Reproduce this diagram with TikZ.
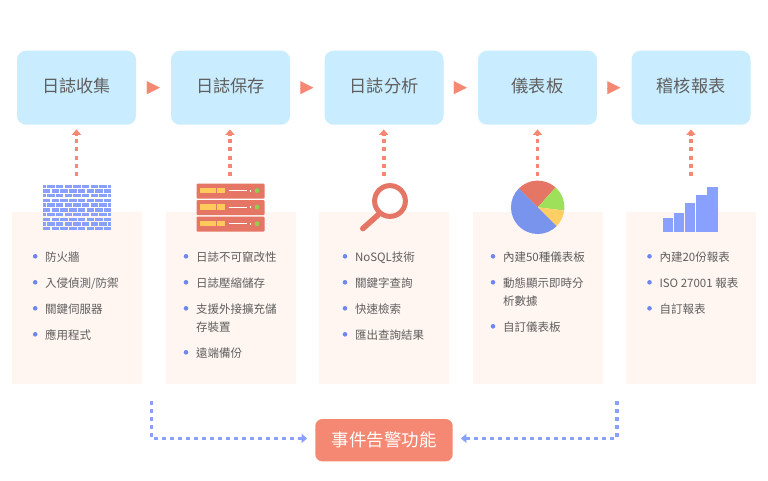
\documentclass[tikz,border=0pt]{standalone}
\usepackage{fontspec}
\setmainfont{Noto Sans CJK TC}
\usetikzlibrary{arrows.meta,calc}
\definecolor{stagefill}{HTML}{C9ECFF}
\definecolor{panelfill}{HTML}{FFF6F1}
\definecolor{coral}{HTML}{F58872}
\definecolor{brick}{HTML}{E57565}
\definecolor{periwinkle}{HTML}{8AA0FF}
\definecolor{bulletblue}{HTML}{6F86F0}
\definecolor{bodytext}{HTML}{5E5E5E}
\definecolor{titletext}{HTML}{5F5F5F}
\definecolor{piegreen}{HTML}{9FE05A}
\definecolor{pieyellow}{HTML}{FFCF66}
\definecolor{pieblue}{HTML}{7994EC}
\definecolor{ledgreen}{HTML}{8FD14F}
\definecolor{slotyellow}{HTML}{FFC95C}
\tikzset{
  stage/.style={draw=none,fill=stagefill,rounded corners=9pt,minimum width=119pt,minimum height=74pt,inner sep=0pt,
    text=titletext,font=\fontsize{17.2}{20}\selectfont},
  panel/.style={draw=none,fill=panelfill,minimum width=130pt,minimum height=172pt,inner sep=0pt},
  alarm/.style={draw=none,fill=coral,rounded corners=7pt,minimum width=137.4pt,minimum height=42.3pt,inner sep=0pt,
    text=white,font=\fontsize{17.5}{20}\selectfont},
  entry/.style={anchor=base west,inner sep=0pt,text=bodytext,font=\fontsize{11.5}{14}\selectfont},
  dotmark/.style={circle,fill=bulletblue,minimum size=4.6pt,inner sep=0pt},
  flowtip/.style={draw=coral,line width=.1pt,shorten <=11pt,shorten >=11pt,
    -{Triangle[length=13pt,width=13pt,fill=coral]}},
  feedsup/.style={draw=coral,line width=3.6pt,dash pattern=on 4pt off 4.2pt,shorten >=4.5pt,
    -{Triangle[length=5.5pt,width=9pt,fill=coral]}},
  alertline/.style={draw=periwinkle,line width=3.8pt,dash pattern=on 4.2pt off 3.8pt,
    -{Triangle[length=5.5pt,width=9pt,fill=periwinkle]}}
}
% One bullet line: name, bullet x, baseline y, text
\newcommand{\listline}[4]{%
  \node[dotmark] (#1d) at (#2,#3-4.7) {};
  \node[entry] (#1) at (#2+9.8,#3) {#4};
}
\begin{document}
\begin{tikzpicture}[x=1pt,y=-1pt]
\useasboundingbox (0,0) rectangle (768,480);
\fill[white] (0,0) rectangle (768,480);

% Pipeline stages
\foreach \n/\x/\label in {1/76.5/日誌收集,2/230.5/日誌保存,3/384/日誌分析,4/537.5/儀表板,5/691/稽核報表}{
  \node[stage] (s\n) at (\x,87.7) {\raisebox{4pt}{\label}};
}
\draw[flowtip] (s1.east) -- (s2.west);
\draw[flowtip] (s2.east) -- (s3.west);
\draw[flowtip] (s3.east) -- (s4.west);
\draw[flowtip] (s4.east) -- (s5.west);

% Detail panels
\node[panel] (p1) at (77,298) {};
\node[panel] (p2) at (231,298) {};
\node[panel] (p3) at (384,298) {};
\node[panel] (p4) at (538,298) {};
\node[panel] (p5) at (691,298) {};

% Connectors rising from each icon to its stage
\foreach \n/\x in {1/76.5,2/230,3/383.7,4/537.5,5/691}{
  \coordinate (f\n) at (\x,176);
  \draw[feedsup] (f\n) -- (f\n |- s\n.south);
}

% Firewall icon
\foreach \r in {0,...,9}{
  \pgfmathsetmacro{\ry}{184.6+\r*4.72}
  \pgfmathtruncatemacro{\odd}{mod(\r,2)}
  \begin{scope}
    \clip (43,184) rectangle (110.8,231);
    \foreach \c in {-1,...,8}{
      \pgfmathsetmacro{\bx}{43+\c*8.7+(\odd==0 ? 4.2 : 0)}
      \fill[periwinkle] (\bx,\ry) rectangle +(7.4,3.4);
    }
  \end{scope}
}

% Server icon
\foreach \t in {183.5,200,216.6}{
  \fill[brick,rounded corners=1pt] (196.5,\t) rectangle (264.5,\t+15);
  \foreach \sx in {200,208.4,216.8}{
    \fill[slotyellow] (\sx,\t+4.2) rectangle +(7.8,5.6);
  }
  \draw[white,line width=.6pt] (228.5,\t+7) -- (247,\t+7);
  \fill[white] (249.5,\t+6) rectangle +(1.8,2);
  \fill[ledgreen] (257,\t+7.1) circle (2.4);
}

% Magnifier icon
\draw[brick,line width=5pt] (390,201) circle (15.4);
\draw[brick,line width=5.6pt,line cap=round] (378,215) -- (362.8,228.6);

% Pie chart icon
\begin{scope}[shift={(537.7,207.3)},y=1pt]
  \fill[brick] (0,0) -- (135:26.7) arc[start angle=135,end angle=48,radius=26.7] -- cycle;
  \fill[piegreen] (0,0) -- (48:26.7) arc[start angle=48,end angle=-7,radius=26.7] -- cycle;
  \fill[pieyellow] (0,0) -- (-7:26.7) arc[start angle=-7,end angle=-45,radius=26.7] -- cycle;
  \fill[pieblue] (0,0) -- (-45:26.7) arc[start angle=-45,end angle=-225,radius=26.7] -- cycle;
\end{scope}

% Bar chart icon
\foreach \a/\b/\t in {662.7/673/218,674/684.3/213.3,685/695.3/203.3,696.3/706.7/195.3,707.3/718/187}{
  \fill[periwinkle] (\a,\t) rectangle (\b,231.7);
}

% Feature lists
\listline{a1}{35.2}{261}{防火牆}
\listline{a2}{35.2}{287}{入侵偵測/防禦}
\listline{a3}{35.2}{313}{關鍵伺服器}
\listline{a4}{35.2}{339}{應用程式}

\listline{b1}{186}{261}{日誌不可竄改性}
\listline{b2}{186}{287}{日誌壓縮儲存}
\listline{b3}{186}{313}{支援外接擴充儲}
\node[entry] (b3x) at (195.8,331) {存裝置};
\listline{b4}{186}{357}{遠端備份}

\listline{c1}{345}{261}{NoSQL技術}
\listline{c2}{345}{287}{關鍵字查詢}
\listline{c3}{345}{313}{快速檢索}
\listline{c4}{345}{339}{匯出查詢結果}

\listline{d1}{493}{261}{內建50種儀表板}
\listline{d2}{493}{287}{動態顯示即時分}
\node[entry] (d2x) at (502.8,305) {析數據};
\listline{d3}{493}{331}{自訂儀表板}

\listline{e1}{649.5}{261}{內建20份報表}
\listline{e2}{649.5}{287}{ISO 27001 報表}
\listline{e3}{649.5}{313}{自訂報表}

% Alert function and the lines feeding it
\node[alarm] (al) at (384,440.2) {\raisebox{1pt}{事件告警功能}};
\coordinate (la) at (151.5,401);
\coordinate (ra) at (616.7,401);
\draw[alertline,shorten >=8pt] (la) |- ($(al.west)+(0,-1.8)$);
\draw[alertline,shorten >=8pt] (ra) |- ($(al.east)+(0,-1.8)$);
\end{tikzpicture}
\end{document}
